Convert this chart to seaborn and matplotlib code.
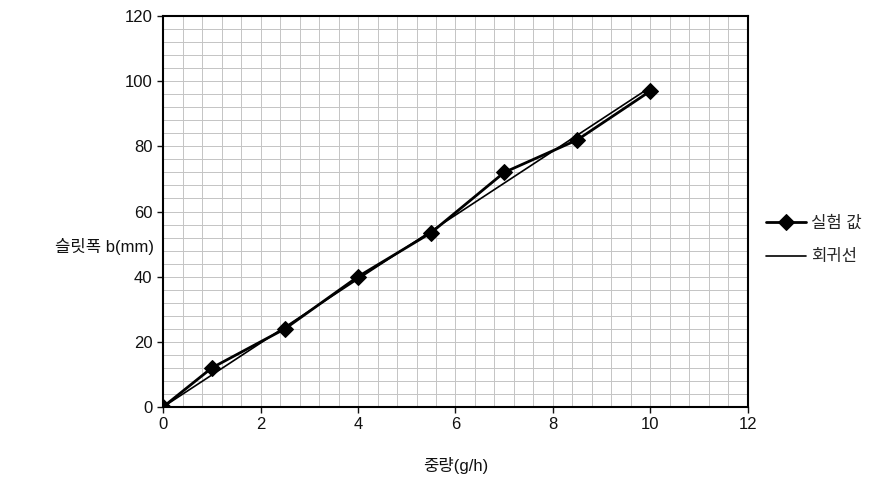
import numpy as np
import pandas as pd
import matplotlib
matplotlib.use('Agg')
import matplotlib.pyplot as plt
from matplotlib.ticker import MultipleLocator
import seaborn as sns

# measured values
weight = [0, 1, 2.5, 4, 5.5, 7, 8.5, 10]
slit_width = [0, 12, 24, 40, 53.5, 72, 82, 97]

x_label = '중량(g/h)'
y_label = '슬릿폭 b(mm)'
series_label = '실험 값'
fit_label = '회귀선'

sns.set_style('white')
plt.rcParams['font.family'] = ['Liberation Sans', 'Noto Sans CJK KR']

df = pd.DataFrame({'x': weight, 'y': slit_width})

# regression through origin
slope = np.sum(df.x * df.y) / np.sum(df.x ** 2)
fit = pd.DataFrame({'x': [0, 10], 'y': [0, slope * 10]})

fig = plt.figure(figsize=(8.88, 4.82), dpi=100)
ax = fig.add_axes([0.1836, 0.1556, 0.6587, 0.8112])

sns.lineplot(data=df, x='x', y='y', ax=ax, color='black', lw=2,
             marker='D', markersize=8.5, markeredgecolor='black',
             label=series_label, zorder=3)
sns.lineplot(data=fit, x='x', y='y', ax=ax, color='black', lw=1.2,
             label=fit_label, zorder=2)

ax.set_xlim(0, 12)
ax.set_ylim(0, 120)
ax.xaxis.set_major_locator(MultipleLocator(2))
ax.yaxis.set_major_locator(MultipleLocator(20))
ax.xaxis.set_minor_locator(MultipleLocator(0.4))
ax.yaxis.set_minor_locator(MultipleLocator(4))
ax.grid(which='both', color='#c4c4c4', lw=0.7)
ax.set_axisbelow(True)
for s in ax.spines.values():
    s.set_color('black')
    s.set_linewidth(1.5)
ax.tick_params(which='major', direction='out', length=4, width=1, labelsize=12,
               left=True, bottom=True, colors='#111111')
ax.tick_params(which='minor', length=0)

ax.set_xlabel(x_label, fontsize=12, labelpad=18, color='#111111')
ax.set_ylabel(y_label, fontsize=12, rotation=0, ha='right', va='center', color='#111111')
ax.yaxis.set_label_coords(-0.016, 0.41)

ax.legend(loc='center left', bbox_to_anchor=(1.005, 0.427), frameon=False,
          fontsize=12, handlelength=2.4, labelspacing=1.1, handletextpad=0.3)

fig.savefig('out.png', dpi=100)
